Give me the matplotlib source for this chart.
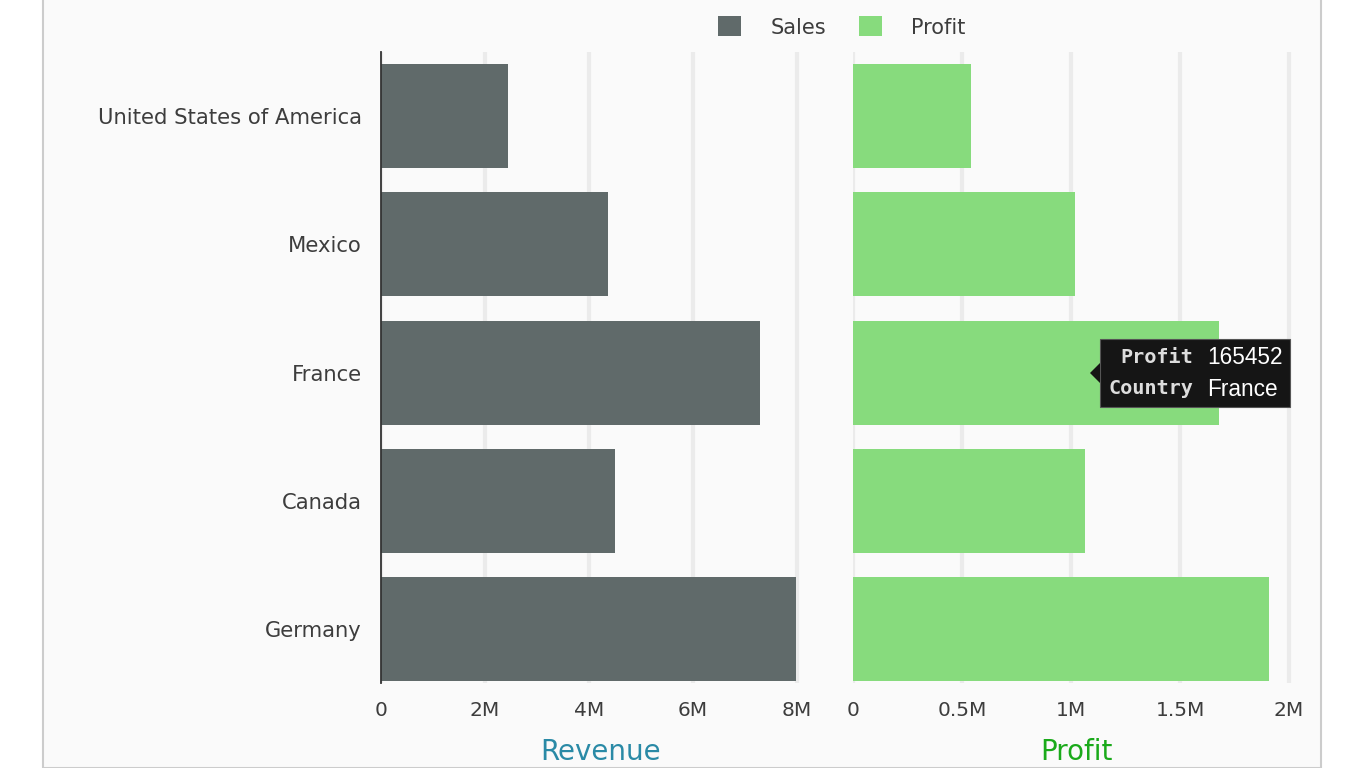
import numpy as np
import matplotlib.pyplot as plt
from matplotlib.patches import Rectangle, Patch, Polygon

countries = ['Germany', 'Canada', 'France', 'Mexico', 'United States of America']
sales = [7.98e6, 4.50e6, 7.29e6, 4.37e6, 2.44e6]
profit = [1.908e6, 1.064e6, 1.679e6, 1.018e6, 0.541e6]

sales_ticks = [0, 2e6, 4e6, 6e6, 8e6]
sales_labels = ['0', '2M', '4M', '6M', '8M']
profit_ticks = [0, 0.5e6, 1e6, 1.5e6, 2e6]
profit_labels = ['0', '0.5M', '1M', '1.5M', '2M']

gray = '#606a6a'
green = '#87db7d'
grid_col = '#ebebeb'
text_col = '#3d3d3d'

plt.rcParams['font.family'] = 'DejaVu Sans'

fig = plt.figure(figsize=(13.66, 7.68), dpi=100, facecolor='white')
# panel background with thin border (left, right, bottom)
fig.patches.append(Rectangle((43 / 1366, 0.5 / 768), (1321 - 43) / 1366, 1.05,
                             transform=fig.transFigure, facecolor='#fafafa',
                             edgecolor='#cccccc', linewidth=1.5, zorder=-10))

bottom = 1 - 683 / 768
height = (683 - 52) / 768
ax1 = fig.add_axes([381 / 1366, bottom, (820 - 381) / 1366, height])
ax2 = fig.add_axes([853 / 1366, bottom, (1300 - 853) / 1366, height], sharey=ax1)

y = np.arange(len(countries))

ax1.barh(y, sales, height=0.81, color=gray, zorder=2)
ax2.barh(y, profit, height=0.81, color=green, zorder=2)

ax1.set_xlim(0, 8.45e6)
ax2.set_xlim(0, 2.05e6)
ax1.set_ylim(-0.42, 4.5)

for ax, ticks, labels in [(ax1, sales_ticks, sales_labels), (ax2, profit_ticks, profit_labels)]:
    ax.set_facecolor('none')
    ax.set_xticks(ticks)
    ax.set_xticklabels(labels)
    ax.xaxis.grid(True, color=grid_col, linewidth=3, zorder=0)
    ax.set_axisbelow(True)
    for s in ax.spines.values():
        s.set_visible(False)
    ax.tick_params(axis='x', length=0, labelsize=14.5, labelcolor=text_col, pad=13)
    ax.tick_params(axis='y', length=0)

ax1.spines['left'].set_visible(True)
ax1.spines['left'].set_color('#333333')
ax1.spines['left'].set_linewidth(1.3)
ax1.set_yticks(y)
ax1.set_yticklabels(countries)
ax1.tick_params(axis='y', labelsize=15.2, labelcolor=text_col, pad=14)
ax2.tick_params(axis='y', labelleft=False)

ax1.set_xlabel('Revenue', fontsize=20, color='#2a8aa6', labelpad=13)
ax2.set_xlabel('Profit', fontsize=20, color='#1aaa1a', labelpad=13)

handles = [Patch(facecolor=gray), Patch(facecolor=green)]
fig.legend(handles, ['Sales', 'Profit'], loc='center', bbox_to_anchor=(842 / 1366, 1 - 27 / 768),
           ncol=2, frameon=False, fontsize=15, handlelength=1.1, handleheight=1.1,
           handletextpad=1.4, columnspacing=1.6, labelcolor=text_col)

# hover tooltip
fig.patches.append(Rectangle((1100 / 1366, 1 - 407 / 768), 190 / 1366, 68 / 768,
                             transform=fig.transFigure, facecolor='#151515',
                             edgecolor='#555555', linewidth=0.8, zorder=5))
fig.patches.append(Polygon([(1100 / 1366, 1 - 363 / 768), (1090 / 1366, 1 - 373 / 768),
                            (1100 / 1366, 1 - 383 / 768)], closed=True,
                           transform=fig.transFigure, facecolor='#151515', zorder=5))
fig.text(1193 / 1366, 1 - 358 / 768, 'Profit', ha='right', va='center', family='DejaVu Sans Mono',
         fontsize=14.5, color='#dddddd', fontweight='bold', zorder=6)
fig.text(1193 / 1366, 1 - 389 / 768, 'Country', ha='right', va='center', family='DejaVu Sans Mono',
         fontsize=14.5, color='#dddddd', fontweight='bold', zorder=6)
fig.text(1207 / 1366, 1 - 358 / 768, '165452', ha='left', va='center', family='Liberation Sans',
         fontsize=16.3, color='white', zorder=6)
fig.text(1207 / 1366, 1 - 389 / 768, 'France', ha='left', va='center', family='Liberation Sans',
         fontsize=16.3, color='white', zorder=6)

plt.savefig('out.png', dpi=100, facecolor=fig.get_facecolor())
